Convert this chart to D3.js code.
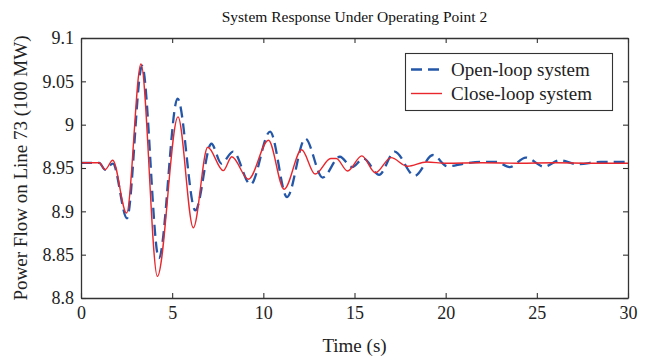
<!DOCTYPE html>
<html>
<head>
<meta charset="utf-8">
<script src="https://cdn.jsdelivr.net/npm/d3@7"></script>
<style>
  html, body { margin: 0; padding: 0; background: #fff; }
  svg { display: block; font-family: "Liberation Serif", "Times New Roman", serif; }
</style>
</head>
<body>
<svg id="chart" width="649" height="362"></svg>
<script>
// Power flow on line 73 after disturbance, open-loop vs close-loop
const openTime  = [0, 1.0, 1.32, 1.75, 2.52, 3.35, 4.27, 5.3, 6.27, 7.15, 7.7, 8.34, 9.3, 10.37, 11.3, 12.3, 13.25, 14.2, 14.87, 15.5, 16.35, 17.2, 18.3, 19.3, 20.1, 21.0, 21.9, 22.8, 23.5, 24.4, 25.4, 26.25, 27.2, 28.5, 30];
const openValue = [8.956, 8.956, 8.948, 8.955, 8.892, 9.068, 8.846, 9.030, 8.901, 8.978, 8.955, 8.969, 8.931, 8.992, 8.9165, 8.984, 8.939, 8.963, 8.951, 8.961, 8.942, 8.969, 8.941, 8.965, 8.952, 8.955, 8.957, 8.957, 8.951, 8.962, 8.9515, 8.959, 8.9545, 8.957, 8.957];

const closeTime  = [0, 1.0, 1.32, 1.74, 2.5, 3.29, 4.19, 5.32, 6.16, 6.95, 7.8, 8.27, 9.18, 10.28, 11.14, 12.1, 12.84, 13.7, 14.0, 14.62, 15.4, 16.15, 17.0, 17.9, 18.95, 20, 22, 24, 26, 28, 30];
const closeValue = [8.956, 8.956, 8.948, 8.959, 8.898, 9.070, 8.825, 9.009, 8.881, 8.974, 8.947, 8.963, 8.937, 8.982, 8.9255, 8.971, 8.943, 8.961, 8.961, 8.9465, 8.964, 8.9445, 8.962, 8.952, 8.957, 8.9555, 8.956, 8.9555, 8.956, 8.9555, 8.9555];

const xTicks = [0, 5, 10, 15, 20, 25, 30];
const yTicks = [8.8, 8.85, 8.9, 8.95, 9, 9.05, 9.1];
const seriesNames = ["Open-loop system", "Close-loop system"];

const svg = d3.select("#chart");
const margin = { left: 81, right: 21, top: 38, bottom: 64 };
const W = 649, H = 362;
const x = d3.scaleLinear().domain([0, 30]).range([margin.left, W - margin.right]);
const y = d3.scaleLinear().domain([8.8, 9.1]).range([H - margin.bottom, margin.top]);

const axisColor = "#333";
const blue = "#2457a8";
const red = "#e8262c";

// Clip so lines stay inside the plot box
svg.append("clipPath").attr("id", "plotclip")
  .append("rect")
  .attr("x", x(0)).attr("y", y(9.1))
  .attr("width", x(30) - x(0)).attr("height", y(8.8) - y(9.1));

const line = d3.line().curve(d3.curveMonotoneX);
const openPts = openTime.map((t, i) => [x(t), y(openValue[i])]);
const closePts = closeTime.map((t, i) => [x(t), y(closeValue[i])]);

const plot = svg.append("g").attr("clip-path", "url(#plotclip)");
plot.append("path").attr("d", line(openPts))
  .attr("fill", "none").attr("stroke", blue).attr("stroke-width", 2.3)
  .attr("stroke-dasharray", "11,6");
plot.append("path").attr("d", line(closePts))
  .attr("fill", "none").attr("stroke", red).attr("stroke-width", 1.4);

// Axes with inward ticks on all four sides
const fmtY = d => String(+d.toFixed(2));
const bottomAxis = d3.axisBottom(x).tickValues(xTicks).tickSizeInner(-5).tickSizeOuter(0).tickPadding(8);
const topAxis = d3.axisTop(x).tickValues(xTicks).tickSizeInner(-5).tickSizeOuter(0).tickFormat("");
const leftAxis = d3.axisLeft(y).tickValues(yTicks).tickSizeInner(-5).tickSizeOuter(0).tickPadding(7).tickFormat(fmtY);
const rightAxis = d3.axisRight(y).tickValues(yTicks).tickSizeInner(-5).tickSizeOuter(0).tickFormat("");

function style(g) {
  g.selectAll("path.domain").attr("stroke", axisColor).attr("stroke-width", 1.3);
  g.selectAll(".tick line").attr("stroke", axisColor).attr("stroke-width", 1.1);
  g.selectAll(".tick text").attr("fill", "#222").style("font-size", "18px")
    .style("font-family", "'Liberation Serif', serif");
}
svg.append("g").attr("transform", `translate(0,${y(8.8)})`).call(bottomAxis).call(style);
svg.append("g").attr("transform", `translate(0,${y(9.1)})`).call(topAxis).call(style);
svg.append("g").attr("transform", `translate(${x(0)},0)`).call(leftAxis).call(style);
svg.append("g").attr("transform", `translate(${x(30)},0)`).call(rightAxis).call(style);

// Title and axis labels
svg.append("text").attr("x", (x(0) + x(30)) / 2).attr("y", 22)
  .attr("text-anchor", "middle").style("font-size", "15.5px").attr("fill", "#111")
  .text("System Response Under Operating Point 2");
svg.append("text").attr("x", (x(0) + x(30)) / 2).attr("y", 352)
  .attr("text-anchor", "middle").style("font-size", "19px").attr("fill", "#222")
  .text("Time (s)");
svg.append("text")
  .attr("transform", `translate(27,${(y(8.8) + y(9.1)) / 2}) rotate(-90)`)
  .attr("text-anchor", "middle").style("font-size", "19px").attr("fill", "#222")
  .text("Power Flow on Line 73 (100 MW)");

// Legend
const lg = svg.append("g");
lg.append("rect").attr("x", 405.5).attr("y", 53.5).attr("width", 207).attr("height", 57)
  .attr("fill", "#fff").attr("stroke", axisColor).attr("stroke-width", 1.1);
const legendRows = [
  { name: seriesNames[0], color: blue, width: 2.3, dash: "11,6", yy: 69.5 },
  { name: seriesNames[1], color: red, width: 1.4, dash: null, yy: 93.5 }
];
legendRows.forEach(r => {
  lg.append("line").attr("x1", 411).attr("x2", 442).attr("y1", r.yy).attr("y2", r.yy)
    .attr("stroke", r.color).attr("stroke-width", r.width)
    .attr("stroke-dasharray", r.dash);
  lg.append("text").attr("x", 451).attr("y", r.yy + 6)
    .style("font-size", "19px").attr("fill", "#222").text(r.name);
});
</script>
</body>
</html>
